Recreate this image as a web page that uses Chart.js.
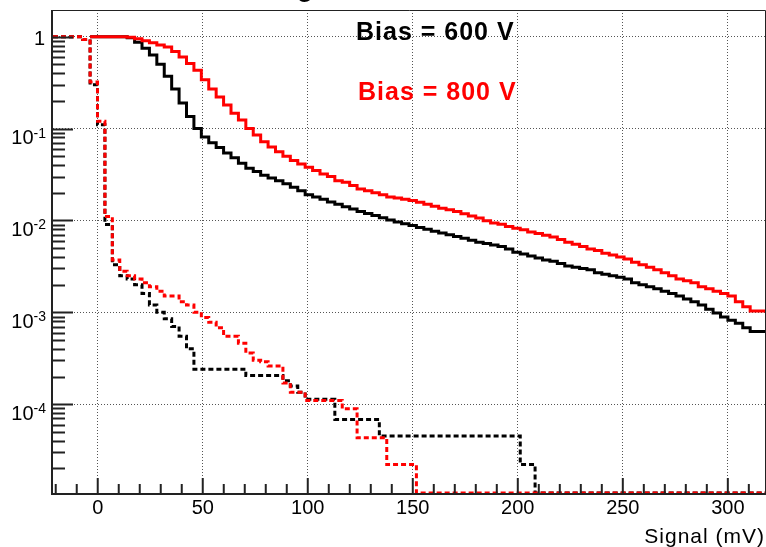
<!DOCTYPE html>
<html>
<head>
<meta charset="utf-8">
<script src="https://cdn.jsdelivr.net/npm/chart.js@4/dist/chart.umd.min.js"></script>
<style>
html, body { margin: 0; padding: 0; background: #fff; }
canvas { display: block; }
</style>
</head>
<body>
<canvas id="c" width="766" height="547"></canvas>
<script>
// histogram binning (96 bins), axis ranges
var X_MIN = -21.3, X_MAX = 317.7;
var BIN_W = 3.53125;
var Y_MIN = 1.08e-5, Y_MAX = 1.95;

var xTicks = [0, 50, 100, 150, 200, 250, 300];
var yTicks = [1e-4, 1e-3, 1e-2, 1e-1, 1];
var yTickLabels = [['10', '-4'], ['10', '-3'], ['10', '-2'], ['10', '-1'], ['1', '']];

// fraction of events above threshold, one value per bin (null = bin not filled, 0 = empty bin)
var signal600 = [null, null, null, null, null,
  1, 1, 1, 1, 1,
  0.97, 0.87, 0.75, 0.63, 0.5,
  0.37, 0.27, 0.19, 0.135, 0.1,
  0.081, 0.07, 0.062, 0.054, 0.048,
  0.042, 0.037, 0.034, 0.031, 0.029,
  0.027, 0.025, 0.023, 0.021, 0.019,
  0.018, 0.017, 0.0159, 0.015, 0.0141,
  0.0133, 0.0125, 0.0119, 0.0113, 0.0107,
  0.0101, 0.0096, 0.0092, 0.0088, 0.0084,
  0.008, 0.0076, 0.0073, 0.007, 0.0067,
  0.0064, 0.0061, 0.0058, 0.0056, 0.0054,
  0.0052, 0.0049, 0.0045, 0.0043, 0.0041,
  0.0039, 0.0037, 0.0036, 0.0034, 0.0032,
  0.0031, 0.003, 0.0029, 0.0027, 0.0026,
  0.0025, 0.0024, 0.0023, 0.0021, 0.002,
  0.0019, 0.0018, 0.0017, 0.0016, 0.0015,
  0.0014, 0.0013, 0.0012, 0.00108, 0.00098,
  0.00089, 0.00082, 0.00076, 0.00068, 0.00062,
  0.00062];

var signal800 = [null, null, null, null, null,
  1, 1, 1, 1, 1,
  0.985, 0.95, 0.9, 0.86, 0.81,
  0.77, 0.69, 0.6, 0.51, 0.43,
  0.34, 0.27, 0.22, 0.18, 0.147,
  0.124, 0.1, 0.085, 0.072, 0.063,
  0.056, 0.05, 0.045, 0.041, 0.038,
  0.035, 0.032, 0.03, 0.027, 0.026,
  0.024, 0.022, 0.021, 0.02, 0.019,
  0.018, 0.0175, 0.017, 0.0165, 0.0158,
  0.015, 0.0143, 0.0136, 0.0131, 0.0125,
  0.0118, 0.0112, 0.0106, 0.0099, 0.0094,
  0.0091, 0.0086, 0.0082, 0.0079, 0.0075,
  0.0072, 0.0069, 0.0066, 0.0062, 0.0058,
  0.0055, 0.0052, 0.0049, 0.0047, 0.0044,
  0.0042, 0.004, 0.0038, 0.0035, 0.0033,
  0.0031, 0.0029, 0.0027, 0.0025, 0.0023,
  0.0022, 0.0021, 0.0019, 0.0018, 0.0017,
  0.0016, 0.0015, 0.0013, 0.00115, 0.00103,
  0.00103];

var noise600 = [1, 1, 1, 1, 0.93,
  0.3, 0.11, 0.009, 0.0033, 0.0025,
  0.0023, 0.002, 0.0016, 0.0012, 0.001,
  0.00085, 0.0007, 0.00055, 0.0004, 0.00024,
  0.00024, 0.00024, 0.00024, 0.00024, 0.00024,
  0.00024, 0.000205, 0.000205, 0.000205, 0.000205,
  0.000205, 0.00018, 0.000158, 0.000135, 0.000113,
  0.000113, 0.000113, 0.000113, 0.000068, 0.000068,
  0.000068, 0.000068, 0.000068, 0.000068, 0.000045,
  0.000045, 0.000045, 0.000045, 0.000045, 0.000045,
  0.000045, 0.000045, 0.000045, 0.000045, 0.000045,
  0.000045, 0.000045, 0.000045, 0.000045, 0.000045,
  0.000045, 0.000045, 0.000045, 0.000022, 0.000022,
  0, 0, 0, 0, 0,
  0, 0, 0, 0, 0,
  0, 0, 0, 0, 0,
  0, 0, 0, 0, 0,
  0, 0, 0, 0, 0,
  0, 0, 0, 0, 0,
  0];

var noise800 = [1, 1, 1, 1, 0.93,
  0.32, 0.12, 0.011, 0.0037, 0.0028,
  0.0025, 0.0023, 0.0021, 0.0019, 0.0017,
  0.0015, 0.0015, 0.0013, 0.0012, 0.001,
  0.00088, 0.00078, 0.00068, 0.00055, 0.00055,
  0.00046, 0.00036, 0.0003, 0.00029, 0.00026,
  0.00026, 0.00017, 0.000135, 0.000135, 0.00011,
  0.00011, 0.00011, 0.00011, 0.00011, 0.000089,
  0.000089, 0.000043, 0.000043, 0.000043, 0.000043,
  0.000022, 0.000022, 0.000022, 0.000022, 0,
  0, 0, 0, 0, 0,
  0, 0, 0, 0, 0,
  0, 0, 0, 0, 0,
  0, 0, 0, 0, 0,
  0, 0, 0, 0, 0,
  0, 0, 0, 0, 0,
  0, 0, 0, 0, 0,
  0, 0, 0, 0, 0,
  0, 0, 0, 0, 0,
  0];

// histogram -> step points at bin low edges, plus the last upper edge
var toSteps = (vals) => {
  var pts = [];
  for (var i = 0; i < vals.length; i++) {
    var v = vals[i];
    pts.push({ x: X_MIN + i * BIN_W, y: v === null ? null : (v === 0 ? Y_MIN : v) });
  }
  var last = pts[pts.length - 1].y;
  pts.push({ x: X_MIN + vals.length * BIN_W, y: last });
  return pts;
};

var FONT = '"Liberation Sans", Arial, Helvetica, sans-serif';

var rootAxes = {
  id: 'rootAxes',
  afterDraw(chart) {
    var ctx = chart.ctx, a = chart.chartArea;
    var xs = chart.scales.x, ys = chart.scales.y;
    ctx.save();
    ctx.strokeStyle = '#222';
    ctx.fillStyle = '#000';

    // ticks inside the frame
    ctx.lineWidth = 2;
    ctx.beginPath();
    for (var t = -20; t <= 310; t += 10) {
      var px = xs.getPixelForValue(t);
      var len = (t % 50 === 0) ? 15 : 9;
      ctx.moveTo(px, a.bottom);
      ctx.lineTo(px, a.bottom - len);
    }
    for (var d = -5; d <= 0; d++) {
      for (var m = 1; m <= 9; m++) {
        var v = m * Math.pow(10, d);
        if (v < Y_MIN || v > Y_MAX) continue;
        var py = Math.round(ys.getPixelForValue(v)) + 0.5;
        ctx.moveTo(a.left, py);
        ctx.lineTo(a.left + (m === 1 ? 20 : 12), py);
      }
    }
    ctx.stroke();

    // frame
    ctx.lineWidth = 1;
    ctx.beginPath();
    ctx.moveTo(a.left, a.top + 0.5);
    ctx.lineTo(a.right + 0.5, a.top + 0.5);
    ctx.lineTo(a.right + 0.5, a.bottom);
    ctx.stroke();
    ctx.lineWidth = 2;
    ctx.beginPath();
    ctx.moveTo(a.left - 1, a.top);
    ctx.lineTo(a.left - 1, a.bottom + 1);
    ctx.lineTo(a.right + 1, a.bottom + 1);
    ctx.stroke();

    // x tick labels
    ctx.font = '20px ' + FONT;
    ctx.textAlign = 'center';
    ctx.textBaseline = 'alphabetic';
    xTicks.forEach(v => {
      ctx.fillText(String(v), xs.getPixelForValue(v), 514);
    });

    // y tick labels with superscripts
    yTicks.forEach((v, i) => {
      var py = ys.getPixelForValue(v);
      var base = yTickLabels[i][0], sup = yTickLabels[i][1];
      ctx.textAlign = 'right';
      if (sup === '') {
        ctx.font = '20px ' + FONT;
        ctx.fillText(base, 45, py + 8.5);
      } else {
        ctx.font = '14px ' + FONT;
        var sw = ctx.measureText(sup).width;
        ctx.fillText(sup, 46, py + 9);
        ctx.font = '20px ' + FONT;
        ctx.fillText(base, 46 - sw, py + 15.5);
      }
    });

    // axis title
    ctx.font = '21px ' + FONT;
    ctx.letterSpacing = '1px';
    ctx.textAlign = 'right';
    ctx.fillText('Signal (mV)', 765, 543);

    // legend texts
    ctx.font = 'bold 25px ' + FONT;
    ctx.textAlign = 'left';
    ctx.fillStyle = '#000';
    ctx.fillText('Bias = 600 V', 356, 40);
    ctx.fillStyle = '#ff0000';
    ctx.fillText('Bias = 800 V', 358, 100);

    // clipped title (only a descender shows)
    ctx.letterSpacing = '0px';
    ctx.fillStyle = '#000';
    ctx.font = 'bold 26px ' + FONT;
    ctx.textAlign = 'center';
    ctx.fillText('g', 305, -3);
    ctx.restore();
  }
};

var config = {
  type: 'line',
  data: {
    datasets: [
      { label: 'noise 800 V', data: toSteps(noise800), borderColor: '#ff0000', borderWidth: 3, borderDash: [5, 3], order: 0 },
      { label: 'noise 600 V', data: toSteps(noise600), borderColor: '#000000', borderWidth: 3, borderDash: [5, 3], order: 1 },
      { label: 'signal 800 V', data: toSteps(signal800), borderColor: '#ff0000', borderWidth: 3, order: 2 },
      { label: 'signal 600 V', data: toSteps(signal600), borderColor: '#000000', borderWidth: 3, order: 3 },
    ]
  },
  options: {
    responsive: false,
    animation: false,
    layout: { padding: { left: 53, right: 1, top: 10, bottom: 54 } },
    plugins: { legend: { display: false }, tooltip: { enabled: false } },
    elements: {
      point: { radius: 0 },
      line: { stepped: true, tension: 0, fill: false, borderJoinStyle: 'miter', borderCapStyle: 'butt' }
    },
    scales: {
      x: {
        type: 'linear',
        min: X_MIN,
        max: X_MAX,
        afterBuildTicks: s => { s.ticks = xTicks.map(v => ({ value: v })); },
        ticks: { display: false },
        grid: { color: '#555', lineWidth: 1, drawTicks: false },
        border: { display: false, dash: [1, 2] }
      },
      y: {
        type: 'logarithmic',
        min: Y_MIN,
        max: Y_MAX,
        afterBuildTicks: s => { s.ticks = yTicks.map(v => ({ value: v })); },
        ticks: { display: false },
        grid: { color: '#555', lineWidth: 1, drawTicks: false },
        border: { display: false, dash: [1, 2] }
      }
    }
  },
  plugins: [rootAxes]
};

new Chart(document.getElementById('c'), config);
</script>
</body>
</html>
